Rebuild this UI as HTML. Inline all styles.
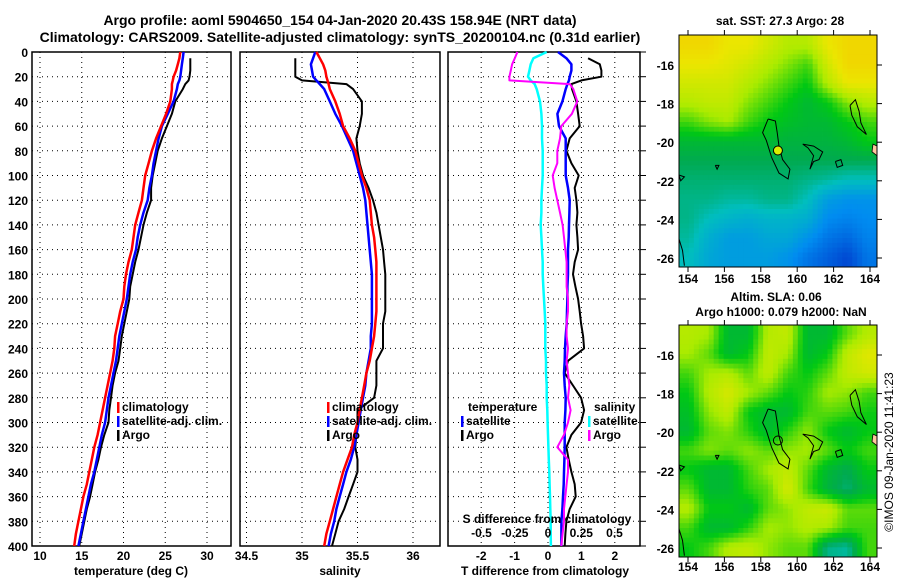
<!DOCTYPE html>
<html><head><meta charset="utf-8">
<style>
body{margin:0;background:#fff;}
svg{display:block;font-family:"Liberation Sans",Arial,sans-serif;font-weight:bold;}
</style></head>
<body>
<svg id="c" width="900" height="580" viewBox="0 0 900 580" xmlns="http://www.w3.org/2000/svg">
<rect width="900" height="580" fill="#fff"/>
<text x="340" y="25" font-size="14" text-anchor="middle">Argo profile: aoml 5904650_154 04-Jan-2020 20.43S 158.94E (NRT data)</text>
<text x="340" y="42" font-size="14" text-anchor="middle">Climatology: CARS2009. Satellite-adjusted climatology: synTS_20200104.nc (0.31d earlier)</text>
<g id="g"></g>
</svg>
<script>
// ---- profile data (depth in m) ----
const depths = [0,5,10,15,20,23,26,30,40,50,60,70,80,90,100,110,120,130,140,150,160,170,180,190,200,210,220,230,240,250,260,270,280,290,300,310,320,330,340,350,360,370,380,390,400];
const tClim  = [26.8,26.7,26.5,26.3,26.0,25.9,25.8,25.8,25.6,25.1,24.5,23.9,23.4,23.0,22.6,22.4,22.2,21.8,21.4,21.2,21.0,20.6,20.3,20.1,20.0,19.6,19.3,19.0,18.9,18.7,18.4,18.1,17.8,17.5,17.2,16.9,16.5,16.2,15.9,15.6,15.2,14.9,14.6,14.3,14.1];
const tSat   = [27.2,27.1,27.0,26.9,26.8,26.7,26.5,26.4,26.0,25.3,24.6,24.2,23.9,23.6,23.4,23.1,22.9,22.4,22.0,21.7,21.5,21.1,20.8,20.6,20.4,20.1,19.8,19.5,19.3,19.1,18.8,18.5,18.2,18.0,17.8,17.4,17.1,16.8,16.5,16.1,15.8,15.5,15.2,14.9,14.6];
const tArgo  = [null,28.0,28.0,28.0,27.9,27.8,27.4,27.1,26.2,25.8,25.2,24.6,24.1,23.8,23.5,23.3,23.3,22.8,22.4,22.1,21.8,21.4,21.1,20.8,20.7,20.4,20.1,19.8,19.6,19.4,19.0,18.7,18.5,18.3,18.2,17.7,17.3,17.0,16.6,16.3,16.0,15.6,15.3,15.0,14.7];
const sClim  = [35.13,35.16,35.19,35.21,35.22,35.23,35.24,35.25,35.30,35.34,35.37,35.43,35.48,35.51,35.54,35.58,35.61,35.62,35.63,35.65,35.66,35.67,35.67,35.67,35.67,35.67,35.66,35.65,35.63,35.61,35.58,35.56,35.54,35.52,35.50,35.47,35.45,35.41,35.37,35.34,35.31,35.28,35.25,35.22,35.20];
const sSat   = [35.12,35.10,35.08,35.09,35.10,35.13,35.16,35.20,35.25,35.30,35.36,35.41,35.46,35.49,35.52,35.55,35.57,35.58,35.59,35.60,35.61,35.62,35.63,35.63,35.63,35.63,35.63,35.62,35.62,35.60,35.58,35.57,35.55,35.53,35.51,35.49,35.47,35.44,35.40,35.37,35.34,35.31,35.29,35.26,35.24];
const sArgo  = [null,34.94,34.94,34.94,34.94,35.00,35.40,35.46,35.54,35.54,35.52,35.49,35.50,35.52,35.55,35.60,35.64,35.67,35.69,35.71,35.73,35.74,35.75,35.75,35.75,35.75,35.73,35.73,35.73,35.67,35.67,35.67,35.65,35.50,35.50,35.49,35.48,35.50,35.50,35.46,35.42,35.38,35.33,35.30,35.27];
const dTSat  = [0.3,0.55,0.7,0.7,0.65,0.63,0.58,0.53,0.43,0.28,0.33,0.53,0.53,0.53,0.53,0.6,0.65,0.64,0.63,0.62,0.6,0.6,0.6,0.58,0.58,0.57,0.56,0.53,0.51,0.5,0.48,0.5,0.53,0.52,0.5,0.5,0.5,0.49,0.48,0.47,0.45,0.43,0.4,0.4,0.4];
const dTArgo = [null,1.2,1.55,1.6,1.6,1.0,0.7,0.72,0.85,0.9,0.95,0.65,0.55,0.7,0.92,0.8,0.85,0.88,0.85,0.88,0.9,0.8,0.75,0.82,0.9,0.95,0.99,1.05,1.08,0.6,0.5,0.75,0.99,1.08,0.99,0.7,0.55,0.62,0.7,0.8,0.83,0.65,0.55,0.52,0.5];
const dSSat  = [-0.01,-0.11,-0.13,-0.14,-0.15,-0.13,-0.1,-0.085,-0.06,-0.05,-0.045,-0.045,-0.04,-0.04,-0.04,-0.045,-0.05,-0.05,-0.055,-0.05,-0.045,-0.04,-0.04,-0.035,-0.03,-0.025,-0.02,-0.02,-0.02,-0.015,-0.015,-0.01,-0.01,-0.005,-0.003,0,0.003,0.006,0.01,0.012,0.015,0.017,0.02,0.02,0.022];
const dSArgo = [-0.23,-0.25,-0.27,-0.28,-0.29,-0.29,0.165,0.19,0.22,0.18,0.1,0.09,0.07,0.07,0.035,0.05,0.07,0.09,0.11,0.12,0.13,0.14,0.14,0.14,0.15,0.15,0.14,0.14,0.15,0.14,0.15,0.16,0.15,0.17,0.15,0.12,0.07,0.15,0.15,0.14,0.13,0.12,0.12,0.11,0.1];
const depthTicks = [0,20,40,60,80,100,120,140,160,180,200,220,240,260,280,300,320,340,360,380,400];
const tTicks = [10,15,20,25,30];
const sTicks = [34.5,35,35.5,36];
const dTTicks = [-2,-1,0,1,2];
const dSTicks = [-0.5,-0.25,0,0.25,0.5];
const dSTickLabels = ['-0.5','-0.25','0','0.25','0.5'];
// map grids (relative colour value 0..1), rows north->south
const sstGrid = [
[.85,.85,.8,.8,.75,.7,.7,.8,.85,.85],
[.8,.8,.78,.75,.7,.65,.6,.75,.85,.85],
[.75,.75,.75,.7,.65,.6,.55,.7,.8,.8],
[.7,.72,.72,.65,.6,.55,.5,.55,.65,.7],
[.6,.65,.68,.6,.55,.52,.5,.5,.55,.6],
[.5,.5,.5,.5,.5,.48,.48,.48,.5,.55],
[.45,.45,.45,.45,.45,.45,.45,.45,.45,.45],
[.42,.42,.42,.42,.42,.42,.4,.38,.35,.35],
[.4,.4,.38,.38,.4,.4,.35,.25,.22,.22],
[.4,.35,.32,.3,.32,.32,.3,.2,.18,.2],
[.38,.3,.25,.25,.28,.28,.22,.15,.12,.18],
[.35,.28,.25,.25,.25,.22,.15,.1,.05,.15]];
const slaGrid = [
[.7,.68,.5,.5,.7,.72,.5,.5,.62,.7],
[.68,.62,.5,.55,.72,.68,.5,.55,.72,.78],
[.6,.68,.7,.62,.72,.6,.55,.62,.72,.75],
[.55,.7,.76,.68,.62,.55,.58,.68,.66,.6],
[.52,.66,.72,.55,.5,.5,.6,.62,.6,.56],
[.5,.62,.65,.58,.5,.58,.66,.55,.5,.55],
[.6,.65,.62,.66,.62,.66,.68,.62,.55,.6],
[.55,.5,.5,.6,.68,.72,.62,.5,.45,.55],
[.62,.5,.5,.58,.62,.76,.6,.48,.42,.5],
[.7,.55,.55,.5,.62,.66,.72,.74,.62,.62],
[.6,.5,.5,.58,.68,.66,.7,.68,.6,.6],
[.55,.6,.7,.72,.66,.62,.62,.4,.38,.6]];
const lonTicks=[154,156,158,160,162,164];
const latTicks=[-16,-18,-20,-22,-24,-26];
const argoLon=158.94, argoLat=-20.43;

const NS="http://www.w3.org/2000/svg";
const G=document.getElementById('g');
function el(tag,attrs,parent){const e=document.createElementNS(NS,tag);for(const k in attrs)e.setAttribute(k,attrs[k]);(parent||G).appendChild(e);return e;}
function txt(x,y,s,size,anchor,parent){const t=el('text',{x:x,y:y,'font-size':size,'text-anchor':anchor||'middle'},parent);t.textContent=s;return t;}

const yD=d=>52+d*1.235;
const xT=t=>40+(t-10)*8.35;
const xS=s=>302+(s-35)*111;
const xdT=t=>548+t*33.4;
const xdS=s=>548+s*133;

function panel(name,x0,x1,vTicks,xf){
  const g=el('g',{});
  
  
  depthTicks.forEach(d=>{ if(d>0&&d<400){const l=el('line',{x1:x0,x2:x1,y1:yD(d),y2:yD(d),stroke:'#000','stroke-width':1,'stroke-dasharray':'1,4'},g);}});
  vTicks.forEach(v=>{const x=xf(v);const l=el('line',{x1:x,x2:x,y1:yD(0),y2:yD(400),stroke:'#000','stroke-width':1,'stroke-dasharray':'1,4'},g);});
  const r=el('rect',{x:x0,y:yD(0),width:x1-x0,height:yD(400)-yD(0),fill:'none',stroke:'#000','stroke-width':1.5},g);
  
  return g;
}
function line(g,xs,xf,color,w,name){
  let d='';let pen=false;
  xs.forEach((v,i)=>{if(v==null){pen=false;return;}d+=(pen?'L':'M')+xf(v).toFixed(1)+','+yD(depths[i]).toFixed(1);pen=true;});
  const p=el('path',{d:d,fill:'none',stroke:color,'stroke-width':w,'stroke-linejoin':'round'},g);
  
}
function legend(g,x,y,color,label,name){
  const l=el('rect',{x:x,y:y-9,width:2.5,height:11,fill:color},g);
  
  const t=txt(x+5,y,label,12,'start',g);
  
}

// Panel 1
const p1=panel('temperature-panel',32,231,tTicks,xT);
line(p1,tArgo,xT,'#000',2,'argo-temperature-line');
line(p1,tSat,xT,'#0000ff',2.5,'satellite-temperature-line');
line(p1,tClim,xT,'#ff0000',2.5,'climatology-temperature-line');
depthTicks.forEach(d=>{const t=txt(28,yD(d)+5,String(d),12,'end');});
tTicks.forEach(v=>{const t=txt(xT(v),560,String(v),12);});
{const t=txt(131,575,'temperature (deg C)',12);}
legend(p1,117,411,'#ff0000','climatology','legend-climatology');
legend(p1,117,425,'#0000ff','satellite-adj. clim.','legend-satellite');
legend(p1,117,439,'#000','Argo','legend-argo');

// Panel 2
const p2=panel('salinity-panel',240,440,sTicks,xS);
line(p2,sArgo,xS,'#000',2,'argo-salinity-line');
line(p2,sSat,xS,'#0000ff',2.5,'satellite-salinity-line');
line(p2,sClim,xS,'#ff0000',2.5,'climatology-salinity-line');
sTicks.forEach(v=>{const t=txt(xS(v),560,String(v),12);});
{const t=txt(340,575,'salinity',12);}
legend(p2,327,411,'#ff0000','climatology','legend-climatology');
legend(p2,327,425,'#0000ff','satellite-adj. clim.','legend-satellite');
legend(p2,327,439,'#000','Argo','legend-argo');

// Panel 3
const p3=panel('difference-panel',448,640,dTTicks,xdT);
depthTicks.forEach(d=>{const l=el('line',{x1:640,x2:646,y1:yD(d),y2:yD(d),stroke:'#000'},p3);});
line(p3,dSSat,xdS,'#00ffff',2.5,'satellite-salinity-diff-line');
line(p3,dTArgo,xdT,'#000',2,'argo-temperature-diff-line');
line(p3,dTSat,xdT,'#0000ff',2.5,'satellite-temperature-diff-line');
line(p3,dSArgo,xdS,'#ff00ff',2,'argo-salinity-diff-line');
dTTicks.forEach(v=>{const t=txt(xdT(v),560,String(v),12);});
dSTicks.forEach((v,i)=>{const t=txt(xdS(v),537,dSTickLabels[i],12);});
{const t=txt(545,575,'T difference from climatology',12);}
{const t=txt(547,523,'S difference from climatology',12);}
{const t=txt(468,411,'temperature',12,'start');}
legend(p3,461,425,'#0000ff','satellite','legend-t-satellite');
legend(p3,461,439,'#000','Argo','legend-t-argo');
{const t=txt(594,411,'salinity',12,'start');}
legend(p3,588,425,'#00ffff','satellite','legend-s-satellite');
legend(p3,588,439,'#ff00ff','Argo','legend-s-argo');

// ---- maps ----
const stops=[[0,[0,50,200]],[.2,[0,140,240]],[.35,[0,190,190]],[.45,[0,170,80]],[.55,[0,200,20]],[.68,[170,235,0]],[.8,[235,230,0]],[1,[255,170,0]]];
function col(v){for(let i=1;i<stops.length;i++){if(v<=stops[i][0]){const a=stops[i-1],b=stops[i];const f=(v-a[0])/(b[0]-a[0]);return 'rgb('+a[1].map((c,j)=>Math.round(c+(b[1][j]-c)*f)).join(',')+')';}}return 'rgb(255,170,0)';}
function sample(grid,fx,fy){
  const R=grid.length,C=grid[0].length;
  const gx=Math.min(Math.max(fx*C-0.5,0),C-1),gy=Math.min(Math.max(fy*R-0.5,0),R-1);
  const x0=Math.floor(gx),y0=Math.floor(gy),x1=Math.min(x0+1,C-1),y1=Math.min(y0+1,R-1);
  const ax=gx-x0,ay=gy-y0;
  return grid[y0][x0]*(1-ax)*(1-ay)+grid[y0][x1]*ax*(1-ay)+grid[y1][x0]*(1-ax)*ay+grid[y1][x1]*ax*ay;
}
function map(name,grid,top,bottom,latTop,latBot,labelY){
  const L=679,Rr=877;
  const lonX=lon=>688+(lon-154)*18.2;
  const latY=lat=>latTop+(lat-(-16))/(-10)*(latBot-latTop);
  const g=el('g',{});
  
  const nx=40,ny=48,cw=(Rr-L)/nx,ch=(bottom-top)/ny;
  for(let j=0;j<ny;j++)for(let i=0;i<nx;i++){
    const v=sample(grid,(i+0.5)/nx,(j+0.5)/ny);
    const r=el('rect',{x:(L+i*cw).toFixed(2),y:(top+j*ch).toFixed(2),width:(cw+0.4).toFixed(2),height:(ch+0.4).toFixed(2),fill:col(v)},g);
    
  }
  const coasts=[
    [[158.4,-18.8],[158.8,-18.9],[158.9,-19.5],[159.0,-20.2],[159.2,-20.9],[159.6,-21.4],[159.5,-21.9],[159.0,-21.6],[158.6,-20.8],[158.3,-19.9],[158.1,-19.5],[158.4,-18.8]],
    [[160.3,-20.1],[160.9,-20.2],[161.4,-20.5],[161.2,-20.9],[160.9,-21.0],[160.7,-21.4],[160.9,-20.7],[160.6,-20.3],[160.3,-20.1]],
    [[162.1,-21.0],[162.4,-20.9],[162.5,-21.2],[162.2,-21.3],[162.1,-21.0]],
    [[162.9,-18.1],[163.2,-17.8],[163.4,-18.4],[163.5,-19.0],[163.8,-19.6],[163.3,-19.2],[163.0,-18.6],[162.9,-18.1]],
    [[155.5,-21.2],[155.7,-21.2],[155.6,-21.4],[155.5,-21.2]],
    [[153.5,-21.7],[153.8,-21.8],[153.6,-22.0],[153.5,-21.7]],
    [[153.5,-25.0],[153.7,-25.6],[153.8,-26.4]]
  ];
  coasts.forEach(c=>{const p=el('path',{d:c.map((q,k)=>(k?'L':'M')+lonX(q[0]).toFixed(1)+','+latY(q[1]).toFixed(1)).join(''),fill:'none',stroke:'#000','stroke-width':1},g);});
  const land=el('path',{d:`M${Rr-4},${latY(-20.1)}L${Rr},${latY(-20.2)}L${Rr},${latY(-20.7)}L${Rr-5},${latY(-20.5)}Z`,fill:'#ffc8a0',stroke:'#000','stroke-width':0.8},g);
  
  const dot=el('circle',{cx:lonX(argoLon),cy:latY(argoLat),r:4.5,fill:name==='sst-map'?'#d8f000':'none',stroke:'#000','stroke-width':1},g);
  
  const fr=el('rect',{x:L,y:top,width:Rr-L,height:bottom-top,fill:'none',stroke:'#000','stroke-width':1},g);
  
  lonTicks.forEach(v=>{const x=lonX(v);
    el('line',{x1:x,x2:x,y1:bottom,y2:bottom+5,stroke:'#000'},g);
    el('line',{x1:x,x2:x,y1:top,y2:top-5,stroke:'#000'},g);
    const t=txt(x,labelY,String(v),12,'middle',g);});
  latTicks.forEach(v=>{const y=latY(v);
    el('line',{x1:Rr,x2:Rr+5,y1:y,y2:y,stroke:'#000'},g);
    const t=txt(674,y+5,String(v),12,'end',g);});
  return g;
}
map('sst-map',sstGrid,35,267,65,258,283);
map('sla-map',slaGrid,325,557,355,548,571);
{const t=txt(780,25,'sat. SST: 27.3 Argo: 28',12);}
{const t=txt(776,301,'Altim. SLA: 0.06',12);}
{const t=txt(781,316,'Argo h1000: 0.079 h2000: NaN',12);}
{const t=txt(0,0,'©IMOS 09-Jan-2020 11:41:23',12,'middle');t.setAttribute('transform','translate(893,452) rotate(-90)');t.setAttribute('font-weight','normal');}
</script>
</body></html>
